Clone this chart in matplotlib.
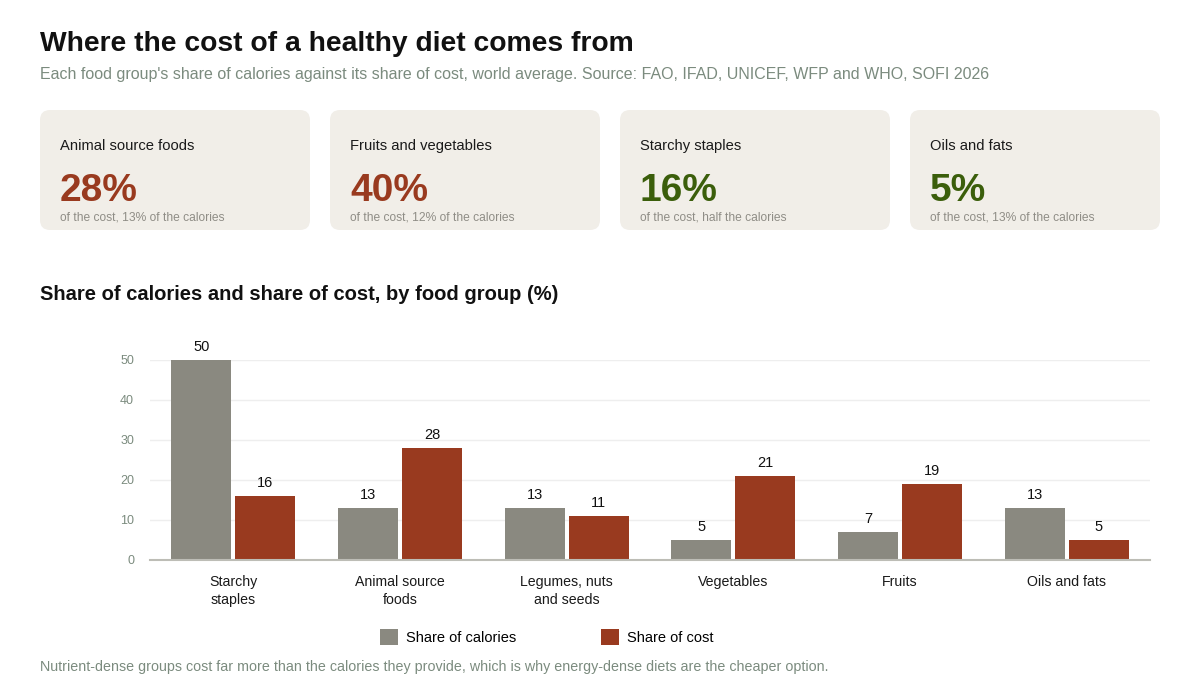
import matplotlib
matplotlib.use("Agg")
import matplotlib.pyplot as plt
from matplotlib.patches import FancyBboxPatch, Patch
import numpy as np

plt.rcParams['font.family'] = ['Liberation Sans', 'DejaVu Sans']

# data
categories = ['Starchy\nstaples', 'Animal source\nfoods', 'Legumes, nuts\nand seeds',
              'Vegetables', 'Fruits', 'Oils and fats']
share_calories = [50, 13, 13, 5, 7, 13]
share_cost = [16, 28, 11, 21, 19, 5]

card_titles = ['Animal source foods', 'Fruits and vegetables', 'Starchy staples', 'Oils and fats']
card_values = ['28%', '40%', '16%', '5%']
card_notes = ['of the cost, 13% of the calories', 'of the cost, 12% of the calories',
              'of the cost, half the calories', 'of the cost, 13% of the calories']

GREY = '#8a8980'
RED = '#993a1f'
GREEN = '#3b5e0b'
MUTED = '#7b8b7e'
CARD_BG = '#f1eee8'

fig = plt.figure(figsize=(12, 6.8), dpi=100)

# overlay axes in pixel coordinates for the header and cards
bg = fig.add_axes([0, 0, 1, 1])
bg.set_xlim(0, 1200)
bg.set_ylim(680, 0)
bg.axis('off')

bg.text(40, 51, 'Where the cost of a healthy diet comes from', fontsize=20.3,
        fontweight='bold', color='#111111', va='baseline')
bg.text(40, 79, "Each food group's share of calories against its share of cost, world average. "
        "Source: FAO, IFAD, UNICEF, WFP and WHO, SOFI 2026", fontsize=11.5, color=MUTED,
        va='baseline')

card_x = [40, 330, 620, 910]
card_w = [270, 270, 270, 250]
value_colors = [RED, RED, GREEN, GREEN]
for x, w, t, v, n, c in zip(card_x, card_w, card_titles, card_values, card_notes, value_colors):
    bg.add_patch(FancyBboxPatch((x, 110), w, 120, boxstyle='round,pad=0,rounding_size=10',
                                facecolor=CARD_BG, edgecolor='none'))
    bg.text(x + 20, 150, t, fontsize=10.6, color='#1a1a1a', va='baseline')
    bg.text(x + 20, 201, v, fontsize=28, fontweight='bold', color=c, va='baseline')
    bg.text(x + 20, 221, n, fontsize=8.65, color='#8f8d86', va='baseline')

bg.text(40, 300, 'Share of calories and share of cost, by food group (%)', fontsize=14.5,
        fontweight='bold', color='#111111', va='baseline')
bg.text(40, 671, 'Nutrient-dense groups cost far more than the calories they provide, '
        'which is why energy-dense diets are the cheaper option.', fontsize=10.3,
        color=MUTED, va='baseline')

# bar chart
ax = fig.add_axes([150 / 1200, 120 / 680, 1000 / 1200, 200 / 680])
x = np.arange(len(categories))
width = 0.36
off = 0.192
b1 = ax.bar(x - off, share_calories, width, color=GREY, label='Share of calories', zorder=3)
b2 = ax.bar(x + off, share_cost, width, color=RED, label='Share of cost', zorder=3)
for bars in (b1, b2):
    ax.bar_label(bars, padding=4, fontsize=10.5, color='#111111')

ax.set_xlim(-0.5, len(categories) - 0.5)
ax.set_ylim(0, 50)
ax.set_yticks([0, 10, 20, 30, 40, 50])
ax.grid(axis='y', color='#eeeeee', linewidth=1, zorder=0)
ax.set_xticks(x)
ax.set_xticklabels(categories, fontsize=10.2, color='#1a1a1a', linespacing=1.3)
ax.tick_params(axis='x', length=0, pad=11)
ax.tick_params(axis='y', length=0, pad=11.5, labelsize=9, labelcolor=MUTED)
for s in ['top', 'right', 'left']:
    ax.spines[s].set_visible(False)
ax.spines['bottom'].set_color('#bdbdb6')
ax.spines['bottom'].set_linewidth(1.5)
ax.spines['bottom'].set_zorder(4)

handles = [Patch(facecolor=GREY, label='Share of calories'), Patch(facecolor=RED, label='Share of cost')]
fig.legend(handles=handles, loc='center left', bbox_to_anchor=(380 / 1200, 43 / 680),
           ncol=2, frameon=False, fontsize=10.5, handlelength=1.25, handleheight=1.25,
           handletextpad=0.55, columnspacing=5.8, borderpad=0, borderaxespad=0)

plt.savefig('out.png', dpi=100)
